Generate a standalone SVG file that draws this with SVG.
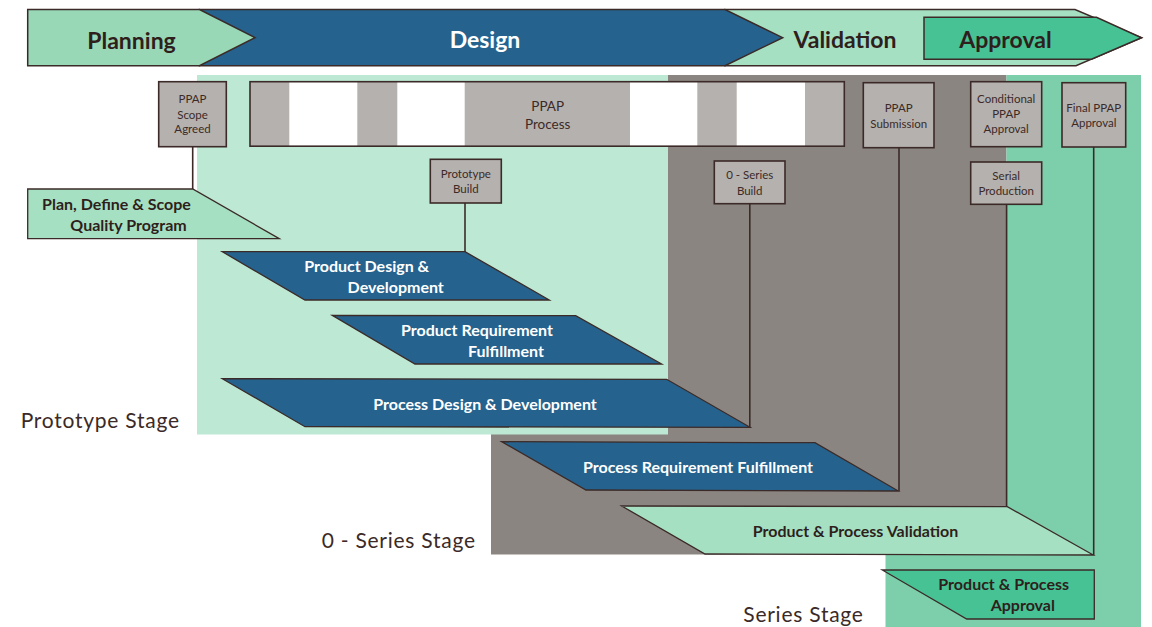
<svg xmlns="http://www.w3.org/2000/svg" width="1152" height="627" viewBox="0 0 1152 627">
<style>
.stk{stroke:#3b2a27;stroke-width:1.5;stroke-linejoin:miter}
.box{fill:#b5b1ae;stroke:#3b2a27;stroke-width:1.6}
.bt{font-family:Lato,"Open Sans",sans-serif;font-size:11.5px;fill:#3b2a27;text-anchor:middle}
.ban{font-family:Lato,"Liberation Sans",sans-serif;font-size:23px;font-weight:bold;fill:#2e1f1c;text-anchor:middle}
.pl{font-family:Lato,"Liberation Sans",sans-serif;font-size:16px;font-weight:bold;text-anchor:middle}
.w{fill:#ffffff}
.d{fill:#2e1f1c}
.stage{font-family:Lato,"Open Sans",sans-serif;font-size:21px;letter-spacing:0.75px;fill:#3b2a27}
.blue{fill:#25638e;stroke:#3b2a27;stroke-width:1.3}
.con{stroke:#3b2a27;stroke-width:1.6;fill:none}
</style>

<g id="backgrounds">
  <rect x="491" y="75" width="515.5" height="479.5" fill="#8b8581"/>
  <polygon points="1006.5,75 1141,75 1141,627 885.5,627 885.5,554.5 1006.5,554.5" fill="#7dcfab"/>
  <rect x="197" y="75" width="471" height="359.5" fill="#bde8d3"/>
</g>

<g id="banner">
  <g id="phase-validation">
    <polygon class="stk" points="725,9.5 1075,9.5 1141.5,37.7 1076,65.7 725,65.7" fill="#a6e0c3"/>
    <text class="ban" x="845" y="47.7">Validation</text>
  </g>
  <g id="phase-approval">
    <polygon class="stk" points="924,17.3 1096.5,17.3 1141.5,37.7 1091.5,59.3 924,59.3" fill="#47c295"/>
    <text class="ban" x="1005.5" y="47.7">Approval</text>
  </g>
  <g id="phase-design">
    <polygon class="stk" points="199.5,9.5 725,9.5 782.7,37.7 725,65.7 199.5,65.7" fill="#25638e"/>
    <text class="ban w" x="485" y="48.3">Design</text>
  </g>
  <g id="phase-planning">
    <polygon class="stk" points="27.7,9.5 199.5,9.5 255,37.7 199.5,65.7 27.7,65.7" fill="#98d8b6"/>
    <text class="ban" x="131.5" y="49">Planning</text>
  </g>
</g>

<g id="ppap-process">
  <rect x="250" y="81.7" width="594.3" height="64.5" fill="#b5b1ae"/>
  <rect x="289.3" y="81.7" width="68" height="64.5" fill="#ffffff"/>
  <rect x="397.3" y="81.7" width="67.4" height="64.5" fill="#ffffff"/>
  <rect x="630" y="81.7" width="67.3" height="64.5" fill="#ffffff"/>
  <rect x="736.7" y="81.7" width="68.3" height="64.5" fill="#ffffff"/>
  <rect x="250" y="81.7" width="594.3" height="64.5" fill="none" stroke="#3b2a27" stroke-width="1.6"/>
  <text class="bt" x="547.7" y="111" style="font-size:13.5px">PPAP</text>
  <text class="bt" x="547.7" y="129" style="font-size:13.5px">Process</text>
</g>

<g id="box-ppap-scope">
  <rect class="box" x="158.7" y="81.7" width="67.6" height="65"/>
  <text class="bt" x="192.5" y="103.3">PPAP</text>
  <text class="bt" x="192.5" y="119">Scope</text>
  <text class="bt" x="192.5" y="133.3">Agreed</text>
</g>
<g id="box-prototype-build">
  <rect class="box" x="430.3" y="159.3" width="71" height="43.7"/>
  <text class="bt" x="465.8" y="177.7">Prototype</text>
  <text class="bt" x="465.8" y="193.3">Build</text>
</g>
<g id="box-0series-build">
  <rect class="box" x="714.3" y="161" width="70.7" height="42.7"/>
  <text class="bt" x="749.7" y="179.3">0 - Series</text>
  <text class="bt" x="749.7" y="195">Build</text>
</g>
<g id="box-ppap-submission">
  <rect class="box" x="863.3" y="82.7" width="70.7" height="65"/>
  <text class="bt" x="898.7" y="111.7">PPAP</text>
  <text class="bt" x="898.7" y="127.7">Submission</text>
</g>
<g id="box-conditional-approval">
  <rect class="box" x="970.7" y="81.7" width="71" height="65"/>
  <text class="bt" x="1006.2" y="102.7">Conditional</text>
  <text class="bt" x="1006.2" y="118.3">PPAP</text>
  <text class="bt" x="1006.2" y="133.3">Approval</text>
</g>
<g id="box-serial-production">
  <rect class="box" x="970.7" y="162" width="71" height="42.3"/>
  <text class="bt" x="1006.2" y="180">Serial</text>
  <text class="bt" x="1006.2" y="195">Production</text>
</g>
<g id="box-final-approval">
  <rect class="box" x="1062" y="82.7" width="63.7" height="64.3"/>
  <text class="bt" x="1093.8" y="112.3">Final PPAP</text>
  <text class="bt" x="1093.8" y="127.3">Approval</text>
</g>

<g id="connectors">
  <line class="con" x1="192.7" y1="146.7" x2="192.7" y2="189"/>
  <line class="con" x1="465" y1="203" x2="465" y2="252"/>
  <line class="con" x1="749.8" y1="203.7" x2="749.8" y2="427.5"/>
  <line class="con" x1="899" y1="147.7" x2="899" y2="491"/>
  <line class="con" x1="1006.6" y1="204.3" x2="1006.6" y2="506.7"/>
  <line class="con" x1="1093.7" y1="147" x2="1093.7" y2="555"/>
</g>

<g id="plan-define">
  <polygon points="27.7,189 192.7,189 279.3,238.7 27.7,238.7" fill="#a6e0c3" stroke="#3b2a27" stroke-width="1.3"/>
  <text class="pl d" x="116.5" y="210">Plan, Define &amp; Scope</text>
  <text class="pl d" x="128.5" y="231">Quality Program</text>
</g>
<g id="product-design">
  <polygon class="blue" points="222.3,251.7 465,251.7 549.3,300 305,300"/>
  <text class="pl w" x="366.7" y="271.7">Product Design &amp;</text>
  <text class="pl w" x="395.7" y="293.3">Development</text>
</g>
<g id="product-requirement">
  <polygon class="blue" points="332.3,315.3 575.7,315.7 661.7,364 415,364"/>
  <text class="pl w" x="477" y="335.7">Product Requirement</text>
  <text class="pl w" x="506" y="356.7">Fulfillment</text>
</g>
<g id="process-design">
  <polygon class="blue" points="222.3,378.7 666.7,379.3 750,427.3 305,426.7"/>
  <text class="pl w" x="485" y="410">Process Design &amp; Development</text>
</g>
<g id="process-requirement">
  <polygon class="blue" points="501.7,441.7 815,442.7 898.3,491 586,490"/>
  <text class="pl w" x="698" y="473.3">Process Requirement Fulfillment</text>
</g>
<g id="product-process-validation">
  <polygon points="621.7,506 1007.3,506.7 1093.3,555 705,554" fill="#a6e0c3" stroke="#3b2a27" stroke-width="1.3"/>
  <text class="pl d" x="855.5" y="536.7">Product &amp; Process Validation</text>
</g>
<g id="product-process-approval">
  <polygon points="882.3,570 1094.3,570 1094.3,619 966.7,619" fill="#47c295" stroke="#3b2a27" stroke-width="1.3"/>
  <text class="pl d" x="1003.7" y="590">Product &amp; Process</text>
  <text class="pl d" x="1022.8" y="610.7">Approval</text>
</g>

<g id="stage-labels">
  <text class="stage" x="20.7" y="428.3">Prototype Stage</text>
  <text class="stage" x="321.7" y="548.3">0 - Series Stage</text>
  <text class="stage" x="743.3" y="621.5">Series Stage</text>
</g>
</svg>
